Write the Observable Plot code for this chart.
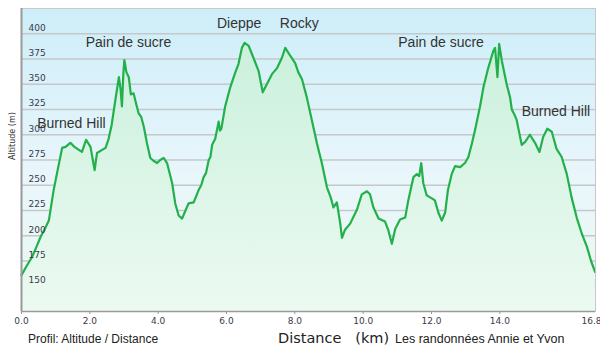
<!DOCTYPE html>
<html>
<head>
<meta charset="utf-8">
<script src="https://cdn.jsdelivr.net/npm/d3@7"></script>
<script src="https://cdn.jsdelivr.net/npm/@observablehq/plot@0.6"></script>
<style>
  body { margin: 0; background: #fff; }
  #wrap { width: 600px; height: 354px; position: relative; overflow: hidden; }
  #footer { position: absolute; top: 330px; left: 0; width: 600px; height: 24px; color: #222; }
  #footer span { position: absolute; white-space: nowrap; }
</style>
</head>
<body>
<div id="wrap">
  <div id="chart"></div>
  <div id="footer">
    <span style="left:28px; top:2px; font:12px 'Liberation Sans', Arial, sans-serif;">Profil: Altitude / Distance</span>
    <span style="left:278px; top:0px; font:14.5px 'DejaVu Sans', Verdana, sans-serif;">Distance&nbsp;&nbsp;&nbsp;(km)</span>
    <span style="left:395px; top:2px; font:12.5px 'Liberation Sans', Arial, sans-serif;">Les randonnées Annie et Yvon</span>
  </div>
</div>
<script>
// Profile data: distance (km) and altitude (m)
const km = [0.00,0.15,0.31,0.45,0.56,0.70,0.80,0.94,1.04,1.19,1.29,1.43,1.55,1.68,1.77,1.89,2.02,2.14,2.21,2.36,2.46,2.55,2.64,2.75,2.85,2.90,2.94,2.98,3.01,3.07,3.14,3.20,3.28,3.36,3.43,3.50,3.58,3.67,3.77,3.87,3.97,4.06,4.16,4.26,4.41,4.50,4.60,4.70,4.80,4.89,5.04,5.18,5.26,5.33,5.40,5.48,5.53,5.58,5.67,5.77,5.81,5.85,5.96,6.11,6.26,6.35,6.45,6.53,6.65,6.79,6.94,7.06,7.18,7.33,7.48,7.62,7.72,7.87,8.01,8.10,8.21,8.35,8.50,8.65,8.79,8.94,9.05,9.13,9.23,9.33,9.38,9.47,9.62,9.82,9.96,10.11,10.20,10.30,10.45,10.64,10.74,10.84,10.94,11.08,11.23,11.32,11.47,11.57,11.64,11.70,11.76,11.86,12.01,12.10,12.20,12.30,12.40,12.48,12.59,12.69,12.84,12.98,13.08,13.18,13.27,13.42,13.52,13.66,13.81,13.86,13.93,13.98,14.06,14.20,14.30,14.35,14.44,14.49,14.64,14.74,14.88,15.03,15.16,15.27,15.39,15.52,15.66,15.81,15.96,16.10,16.25,16.40,16.55,16.67,16.79];
const alt = [161,170,179,190,199,208,215,245,262,287,288,292,288,285,283,295,288,265,282,285,287,296,310,335,357,345,328,360,374,362,357,340,341,330,321,318,308,292,277,274,272,275,277,272,252,232,220,217,225,232,233,245,250,258,262,275,278,290,296,313,304,306,328,347,362,370,386,391,388,376,363,342,350,360,366,376,386,378,371,362,355,337,314,291,272,248,238,228,233,212,198,206,212,226,241,244,241,228,217,214,205,192,207,216,218,235,258,261,259,272,252,240,237,235,223,215,223,245,261,269,268,272,278,291,304,328,347,366,383,386,357,390,373,350,337,325,319,315,290,293,300,292,283,298,306,303,286,278,261,238,218,202,189,175,164];

// Axis ticks
const xTicks = [0, 2, 4, 6, 8, 10, 12, 14];
const xTickEnd = [16.8];
const yTicks = [150, 175, 200, 225, 250, 275, 300, 325, 350, 375, 400];

// Peak annotations (label anchor positions in km / m)
const peakNames = ["Burned Hill", "Pain de sucre", "Dieppe", "Rocky", "Pain de sucre", "Burned Hill"];
const peakKm = [1.46, 3.13, 6.37, 8.13, 12.28, 15.64];
const peakAlt = [311, 391, 410, 410, 391, 323];

const profile = km.map((k, i) => ({km: k, alt: alt[i]}));
const peaks = peakNames.map((n, i) => ({name: n, km: peakKm[i], alt: peakAlt[i]}));

const chart = Plot.plot({
  width: 600,
  height: 330,
  marginTop: 8,
  marginLeft: 21,
  marginRight: 5,
  marginBottom: 19,
  style: {fontFamily: "'DejaVu Sans', Verdana, sans-serif", background: "transparent"},
  x: {domain: [0, 16.8]},
  y: {domain: [125, 425]},
  marks: [
    Plot.frame({fill: "url(#bgGrad)", stroke: null}),
    Plot.ruleY(yTicks, {stroke: "#c4c8ca", strokeWidth: 1.6}),
    Plot.areaY(profile, {x: "km", y1: 125, y2: "alt", fill: "url(#areaGrad)", curve: "linear"}),
    Plot.lineY(profile, {x: "km", y: "alt", stroke: "#22b04b", strokeWidth: 2.2, curve: "linear"}),
    Plot.text(yTicks, {y: d => d, frameAnchor: "left", dx: 7, dy: -6, textAnchor: "start", text: d => String(d), fontSize: 9, fill: "#3b3a4a"}),
    Plot.text(peaks, {x: "km", y: "alt", text: "name", fontSize: 14, fill: "#333", fontFamily: "'Liberation Sans', Arial, sans-serif"}),
    Plot.frame({stroke: "#c8c8c8", strokeWidth: 1}),
    Plot.ruleX([0], {stroke: "#9a9a9a", strokeWidth: 2}),
    Plot.ruleY([125], {stroke: "#9a9a9a", strokeWidth: 1.5}),
    Plot.axisX({ticks: xTicks, tickFormat: d => d.toFixed(1), tickSize: 3, tickPadding: 3, fontSize: 9, fill: "#3b3a4a", stroke: "#999", label: null}),
    Plot.axisX({ticks: xTickEnd, tickFormat: d => d.toFixed(1), tickSize: 3, tickPadding: 3, fontSize: 9, fill: "#3b3a4a", stroke: "#999", label: null, textAnchor: "end", dx: 6}),
    Plot.axisY({ticks: [], label: null}),
    Plot.text(["Altitude (m)"], {frameAnchor: "left", dx: -9, rotate: -90, text: d => d, fontSize: 8, fill: "#333"})
  ]
});

const svg = d3.select(chart);
const defs = svg.insert("defs", ":first-child");
const bg = defs.append("linearGradient").attr("id", "bgGrad").attr("x1", 0).attr("y1", 0).attr("x2", 0).attr("y2", 1);
bg.append("stop").attr("offset", "0%").attr("stop-color", "#cdeef9");
bg.append("stop").attr("offset", "55%").attr("stop-color", "#e9f6fb");
bg.append("stop").attr("offset", "100%").attr("stop-color", "#e9f9f0");
const ag = defs.append("linearGradient").attr("id", "areaGrad").attr("gradientUnits", "userSpaceOnUse")
  .attr("x1", 0).attr("y1", 8).attr("x2", 0).attr("y2", 311);
ag.append("stop").attr("offset", "0%").attr("stop-color", "#c6efd9");
ag.append("stop").attr("offset", "100%").attr("stop-color", "#ecfaf2");

document.getElementById("chart").appendChild(chart);
</script>
</body>
</html>
